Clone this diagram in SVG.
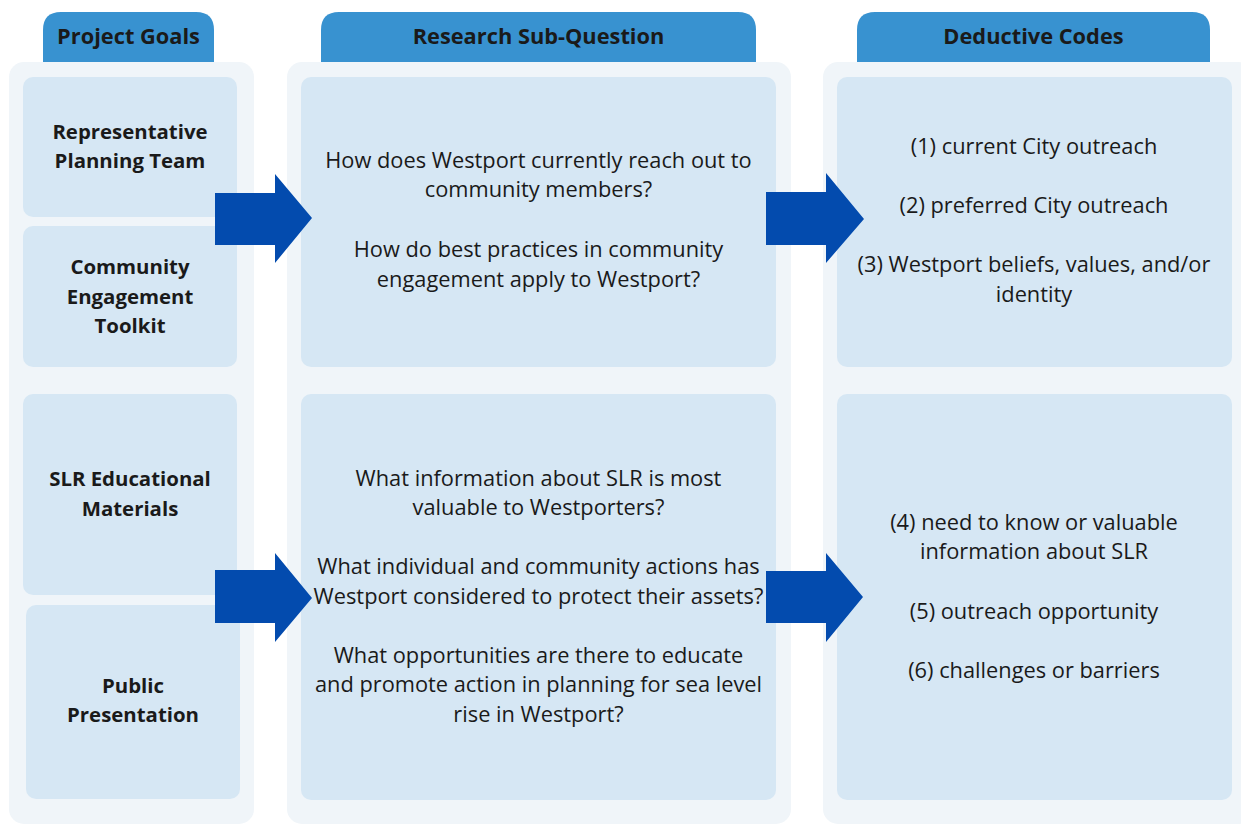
<svg xmlns="http://www.w3.org/2000/svg" width="1241" height="825" viewBox="0 0 1241 825">
<style>
.tab{fill:#3892D0}
.panel{fill:#F0F5F9}
.box{fill:#D6E7F4}
.arrow{fill:#034BAE}
text{font-family:"Open Sans",Lato,sans-serif;fill:#1a1a1a;text-anchor:middle}
.h{font-weight:bold;font-size:21.8px}
.g{font-weight:bold;font-size:20.4px}
.t{font-size:21.8px}
</style>
<rect width="1241" height="825" fill="#ffffff"/>
<g id="col-goals">
<path class="tab" d="M43,62 V30 Q43,12 61,12 H196 Q214,12 214,30 V62 Z"/>
<text class="h" x="128.5" y="44">Project Goals</text>
<rect class="panel" x="9" y="62" width="245" height="762" rx="15"/>
</g>
<g id="col-research">
<path class="tab" d="M321,62 V30 Q321,12 339,12 H738 Q756,12 756,30 V62 Z"/>
<text class="h" x="538.5" y="44">Research Sub-Question</text>
<rect class="panel" x="287" y="62" width="504" height="762" rx="15"/>
</g>
<g id="col-codes">
<path class="tab" d="M857,62 V30 Q857,12 875,12 H1192 Q1210,12 1210,30 V62 Z"/>
<text class="h" x="1033.5" y="44">Deductive Codes</text>
<rect class="panel" x="823" y="62" width="430" height="762" rx="15"/>
</g>
<g id="goal-team">
<rect class="box" x="23" y="77" width="214" height="140" rx="10"/>
<text class="g" x="130" y="139">Representative</text>
<text class="g" x="130" y="168">Planning Team</text>
</g>
<g id="goal-toolkit">
<rect class="box" x="23" y="226" width="214" height="141" rx="10"/>
<text class="g" x="130" y="274">Community</text>
<text class="g" x="130" y="304">Engagement</text>
<text class="g" x="130" y="333">Toolkit</text>
</g>
<g id="goal-materials">
<rect class="box" x="23" y="394" width="214" height="201" rx="10"/>
<text class="g" x="130" y="486">SLR Educational</text>
<text class="g" x="130" y="516">Materials</text>
</g>
<g id="goal-presentation">
<rect class="box" x="26" y="605" width="214" height="194" rx="10"/>
<text class="g" x="133" y="693">Public</text>
<text class="g" x="133" y="722">Presentation</text>
</g>
<g id="question-outreach">
<rect class="box" x="301" y="77" width="475" height="290" rx="10"/>
<text class="t" x="538.5" y="168">How does Westport currently reach out to</text>
<text class="t" x="538.5" y="197">community members?</text>
<text class="t" x="538.5" y="257">How do best practices in community</text>
<text class="t" x="538.5" y="287">engagement apply to Westport?</text>
</g>
<g id="question-slr">
<rect class="box" x="301" y="394" width="475" height="406" rx="10"/>
<text class="t" x="538.5" y="486">What information about SLR is most</text>
<text class="t" x="538.5" y="515">valuable to Westporters?</text>
<text class="t" x="538.5" y="574">What individual and community actions has</text>
<text class="t" x="538.5" y="604">Westport considered to protect their assets?</text>
<text class="t" x="538.5" y="663">What opportunities are there to educate</text>
<text class="t" x="538.5" y="692">and promote action in planning for sea level</text>
<text class="t" x="538.5" y="722">rise in Westport?</text>
</g>
<g id="codes-outreach">
<rect class="box" x="837" y="77" width="395" height="290" rx="10"/>
<text class="t" x="1034" y="154">(1) current City outreach</text>
<text class="t" x="1034" y="213">(2) preferred City outreach</text>
<text class="t" x="1034" y="272">(3) Westport beliefs, values, and/or</text>
<text class="t" x="1034" y="302">identity</text>
</g>
<g id="codes-slr">
<rect class="box" x="837" y="394" width="395" height="406" rx="10"/>
<text class="t" x="1034" y="530">(4) need to know or valuable</text>
<text class="t" x="1034" y="559">information about SLR</text>
<text class="t" x="1034" y="619">(5) outreach opportunity</text>
<text class="t" x="1034" y="678">(6) challenges or barriers</text>
</g>
<g id="connectors">
<polygon class="arrow" points="215,193 275,193 275,174 312,218 275,263 275,245 215,245"/>
<polygon class="arrow" points="766,192 826,192 826,173 864,219 826,263 826,245 766,245"/>
<polygon class="arrow" points="215,570 275,570 275,553 312,598 275,642 275,623 215,623"/>
<polygon class="arrow" points="766,571 826,571 826,553 863,597 826,642 826,623 766,623"/>
</g>
</svg>
